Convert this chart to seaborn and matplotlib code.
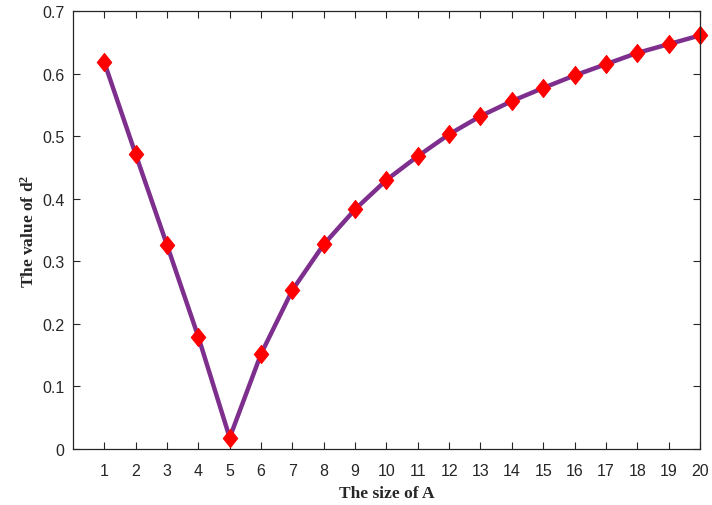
import numpy as np
import pandas as pd
import matplotlib
matplotlib.use("Agg")
import matplotlib.pyplot as plt
import seaborn as sns

# Data
size_a = list(range(1, 21))
d2_values = [0.618, 0.471, 0.326, 0.179, 0.018, 0.152, 0.254, 0.327, 0.383, 0.430,
             0.468, 0.503, 0.532, 0.556, 0.577, 0.597, 0.615, 0.633, 0.647, 0.661]
y_ticks = [0, 0.1, 0.2, 0.3, 0.4, 0.5, 0.6, 0.7]
y_tick_labels = ["0", "0.1", "0.2", "0.3", "0.4", "0.5", "0.6", "0.7"]

df = pd.DataFrame({"A": size_a, "d2": d2_values})

sns.set_theme(style="ticks")
plt.rcParams["font.family"] = ["Liberation Sans", "DejaVu Sans"]
plt.rcParams["mathtext.fontset"] = "custom"
plt.rcParams["mathtext.rm"] = "Liberation Serif:bold"
plt.rcParams["mathtext.it"] = "Liberation Serif:bold"
plt.rcParams["mathtext.bf"] = "Liberation Serif:bold"
plt.rcParams["mathtext.default"] = "rm"

fig = plt.figure(figsize=(7.12, 5.06), dpi=100)
ax = fig.add_axes([0.1025, 0.1107, 0.8805, 0.8655])

diamond = [(0, 1), (0.8, 0), (0, -1), (-0.8, 0), (0, 1)]
sns.lineplot(data=df, x="A", y="d2", ax=ax, color="#7E2F8E", linewidth=3.2,
             marker=diamond, markersize=13, markerfacecolor="red",
             markeredgecolor="red", clip_on=False)

ax.set_xlim(0, 20)
ax.set_ylim(0, 0.7)
ax.set_xticks(size_a)
ax.set_yticks(y_ticks)
ax.set_yticklabels(y_tick_labels)

for s in ax.spines.values():
    s.set_visible(True)
    s.set_color("#262626")
    s.set_linewidth(0.9)

ax.tick_params(direction="in", length=5, width=0.8, colors="#262626",
               labelsize=11.5, top=True, right=True, labeltop=False, labelright=False)
ax.tick_params(axis="x", pad=10)
ax.tick_params(axis="y", pad=6)

ax.set_xlabel("The size of A", fontfamily="Liberation Serif", fontweight="bold",
              fontsize=12.5, labelpad=5, color="#262626")
ax.set_ylabel("The value of d$^2$", fontfamily="Liberation Serif", fontweight="bold",
              fontsize=12.5, labelpad=3, color="#262626")

fig.savefig("out.png", dpi=100)
